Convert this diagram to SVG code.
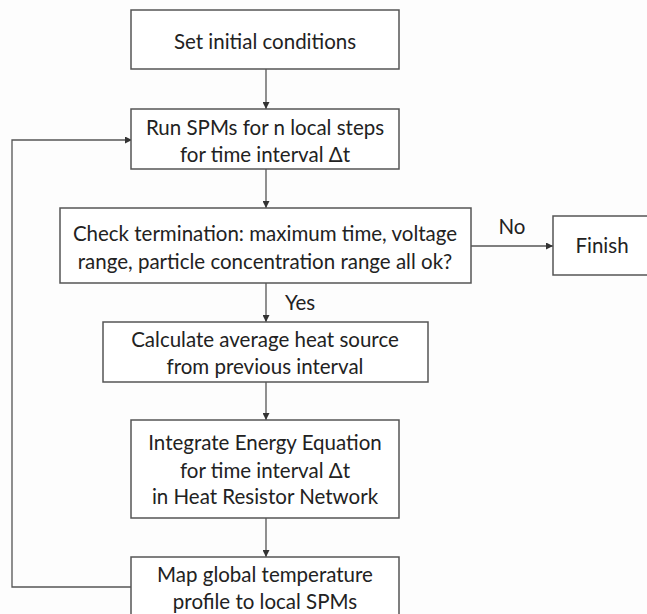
<svg xmlns="http://www.w3.org/2000/svg" width="647" height="614" viewBox="0 0 647 614">
<style>
.box{fill:#fff;stroke:#555;stroke-width:1.5}
.t{font-family:Lato,"Liberation Sans",sans-serif;font-size:20.5px;fill:#222;text-anchor:middle}
.c{fill:none;stroke:#555;stroke-width:1.3}
</style>
<defs>
<marker id="ah" viewBox="0 0 10 10" refX="10" refY="5" markerWidth="7" markerHeight="7" markerUnits="userSpaceOnUse" orient="auto">
<path d="M0,0 L10,5 L0,10 z" fill="#333"/>
</marker>
</defs>
<rect width="647" height="614" fill="#fdfdfd"/>
<g id="connectors">
<line class="c" x1="266" y1="69" x2="266" y2="109" marker-end="url(#ah)"/>
<line class="c" x1="266" y1="169" x2="266" y2="208" marker-end="url(#ah)"/>
<line class="c" x1="471" y1="246" x2="553" y2="246" marker-end="url(#ah)"/>
<line class="c" x1="266" y1="283" x2="266" y2="322" marker-end="url(#ah)"/>
<line class="c" x1="266" y1="382" x2="266" y2="420" marker-end="url(#ah)"/>
<line class="c" x1="266" y1="518" x2="266" y2="557" marker-end="url(#ah)"/>
<polyline class="c" points="132,587 12,587 12,140 132,140" marker-end="url(#ah)"/>
<text class="t" x="512" y="234">No</text>
<text class="t" x="300" y="310">Yes</text>
</g>
<g id="n1"><rect class="box" x="131" y="10" width="268" height="59"/><text class="t" x="265" y="49">Set initial conditions</text></g>
<g id="n2"><rect class="box" x="131" y="109" width="268" height="60"/><text class="t" x="265" y="135">Run SPMs for n local steps</text><text class="t" x="265" y="162">for time interval Δt</text></g>
<g id="n3"><rect class="box" x="60" y="208" width="411" height="75"/><text class="t" x="265" y="241">Check termination: maximum time, voltage</text><text class="t" x="265" y="269">range, particle concentration range all ok?</text></g>
<g id="n4"><rect class="box" x="553" y="216" width="99" height="59"/><text class="t" x="602" y="253">Finish</text></g>
<g id="n5"><rect class="box" x="103" y="322" width="325" height="60"/><text class="t" x="265" y="347">Calculate average heat source</text><text class="t" x="265" y="374">from previous interval</text></g>
<g id="n6"><rect class="box" x="131" y="420" width="268" height="98"/><text class="t" x="265" y="450">Integrate Energy Equation</text><text class="t" x="265" y="478">for time interval Δt</text><text class="t" x="265" y="504">in Heat Resistor Network</text></g>
<g id="n7"><rect class="box" x="131" y="557" width="268" height="60"/><text class="t" x="265" y="582">Map global temperature</text><text class="t" x="265" y="609">profile to local SPMs</text></g>
</svg>
